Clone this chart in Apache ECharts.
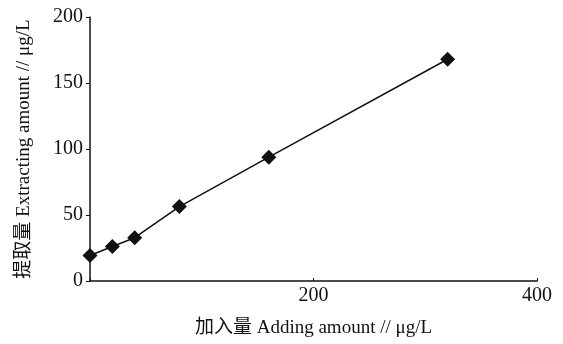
<!DOCTYPE html>
<html>
<head>
<meta charset="utf-8">
<script src="https://cdn.jsdelivr.net/npm/echarts@6/dist/echarts.min.js"></script>
<style>
  html, body { margin: 0; padding: 0; background: #fff; }
  #chart { width: 563px; height: 344px; }
</style>
</head>
<body>
<div id="chart"></div>
<script>
// Spiked amount vs. recovered (extracted) amount, µg/L
const addingAmount = [0, 20, 40, 80, 160, 320];
const extractingAmount = [19.3, 26.1, 32.8, 56.4, 93.8, 168];

const xTicks = { min: 0, max: 400, interval: 200 };
const yTicks = { min: 0, max: 200, interval: 50 };

const xTitle = '加入量 Adding amount // μg/L';
const yTitle = '提取量 Extracting amount // μg/L';

const serif = '"Liberation Serif", "DejaVu Serif", "Noto Sans CJK SC", serif';
const ink = '#111';

const chart = echarts.init(document.getElementById('chart'), null, { renderer: 'canvas' });
chart.setOption({
  animation: false,
  backgroundColor: '#fff',
  grid: { left: 90, right: 26, top: 17, bottom: 63, containLabel: false },
  xAxis: {
    type: 'value',
    min: xTicks.min, max: xTicks.max, interval: xTicks.interval,
    name: xTitle,
    nameLocation: 'middle',
    nameGap: 38,
    nameTextStyle: { fontFamily: serif, fontSize: 19, color: ink },
    axisLine: { lineStyle: { color: ink, width: 1.5 } },
    axisTick: { inside: true, length: 3, lineStyle: { color: ink } },
    axisLabel: {
      fontFamily: serif, fontSize: 20, color: ink, margin: 5,
      formatter: v => (v === 0 ? '' : String(v))
    },
    splitLine: { show: false }
  },
  yAxis: {
    type: 'value',
    min: yTicks.min, max: yTicks.max, interval: yTicks.interval,
    name: yTitle,
    nameLocation: 'middle',
    nameRotate: 90,
    nameGap: 56,
    nameTextStyle: { fontFamily: serif, fontSize: 19, color: ink },
    axisLine: { lineStyle: { color: ink, width: 1.5 } },
    axisTick: { inside: false, length: 4, lineStyle: { color: ink } },
    axisLabel: { fontFamily: serif, fontSize: 20, color: ink, margin: 7 },
    splitLine: { show: false }
  },
  series: [{
    type: 'line',
    data: addingAmount.map((x, i) => [x, extractingAmount[i]]),
    symbol: 'diamond',
    symbolSize: 15,
    lineStyle: { color: ink, width: 1.5 },
    itemStyle: { color: ink, borderWidth: 0 }
  }]
});
</script>
</body>
</html>
